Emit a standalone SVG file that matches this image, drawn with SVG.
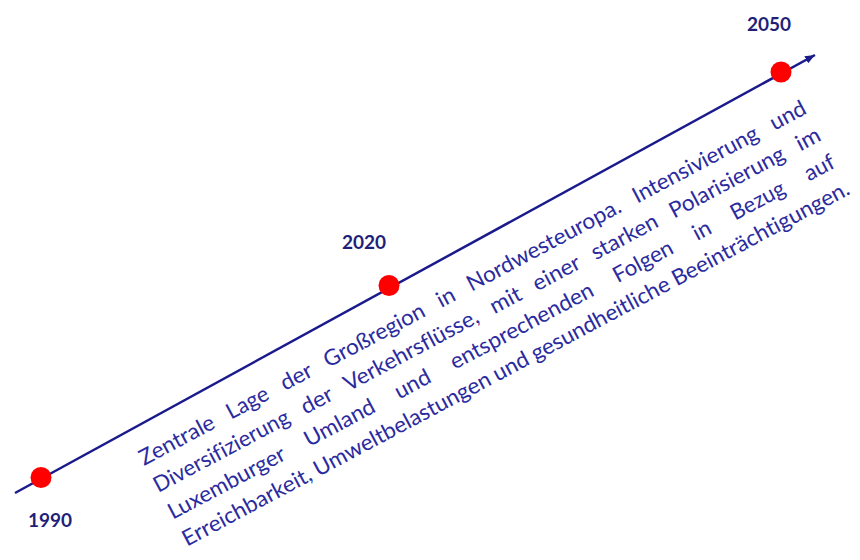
<svg xmlns="http://www.w3.org/2000/svg" width="860" height="560" viewBox="0 0 860 560">
<defs>
<style>
.yr{font-family:Lato,"Liberation Sans",sans-serif;font-weight:700;font-size:19px;fill:#1f1f7a}
.body{font-family:Lato,"Liberation Sans",sans-serif;font-size:22px;fill:#2b2ba0;font-variant-ligatures:none}
.dot{fill:#ff0000}
.axis{stroke:#1a1a8c;stroke-width:2.5;fill:none}
</style>
<marker id="arr" viewBox="0 0 10 8" refX="10" refY="4" markerWidth="10" markerHeight="8" markerUnits="userSpaceOnUse" orient="auto">
<path d="M0,0 L10,4 L0,8 z" fill="#1a1a8c"/>
</marker>
</defs>
<rect width="860" height="560" fill="#ffffff"/>
<g id="connectors">
<line class="axis" x1="15" y1="493" x2="815" y2="55" marker-end="url(#arr)"/>
</g>
<g id="node-1990">
<circle class="dot" cx="41" cy="477.5" r="10.5"/>
<text class="yr" x="28" y="527">1990</text>
</g>
<g id="node-2020">
<circle class="dot" cx="389" cy="285.5" r="10.5"/>
<text class="yr" x="342" y="249">2020</text>
</g>
<g id="node-2050">
<circle class="dot" cx="781" cy="72" r="10.5"/>
<text class="yr" x="747" y="30.5">2050</text>
</g>
<g id="description" transform="translate(144,466) rotate(-28)">
<text class="body" y="0"><tspan x="0" textLength="82.3" lengthAdjust="spacingAndGlyphs">Zentrale</tspan> <tspan x="98.6" textLength="44.8" lengthAdjust="spacingAndGlyphs">Lage</tspan> <tspan x="159.6" textLength="32.9" lengthAdjust="spacingAndGlyphs">der</tspan> <tspan x="208.8" textLength="111.6" lengthAdjust="spacingAndGlyphs">Großregion</tspan> <tspan x="336.7" textLength="18.1" lengthAdjust="spacingAndGlyphs">in</tspan> <tspan x="371" textLength="171.4" lengthAdjust="spacingAndGlyphs">Nordwesteuropa.</tspan> <tspan x="558.7" textLength="139.3" lengthAdjust="spacingAndGlyphs">Intensivierung</tspan> <tspan x="714.2" textLength="37.8" lengthAdjust="spacingAndGlyphs">und</tspan></text>
<text class="body" y="30.5"><tspan x="0" textLength="150.9" lengthAdjust="spacingAndGlyphs">Diversifizierung</tspan> <tspan x="166.7" textLength="32.9" lengthAdjust="spacingAndGlyphs">der</tspan> <tspan x="215.4" textLength="149.6" lengthAdjust="spacingAndGlyphs">Verkehrsflüsse,</tspan> <tspan x="380.8" textLength="32.7" lengthAdjust="spacingAndGlyphs">mit</tspan> <tspan x="429.3" textLength="50.4" lengthAdjust="spacingAndGlyphs">einer</tspan> <tspan x="495.4" textLength="72.8" lengthAdjust="spacingAndGlyphs">starken</tspan> <tspan x="584" textLength="127.6" lengthAdjust="spacingAndGlyphs">Polarisierung</tspan> <tspan x="727.4" textLength="24.7" lengthAdjust="spacingAndGlyphs">im</tspan></text>
<text class="body" y="61"><tspan x="0" textLength="129.4" lengthAdjust="spacingAndGlyphs">Luxemburger</tspan> <tspan x="154.5" textLength="77" lengthAdjust="spacingAndGlyphs">Umland</tspan> <tspan x="256.6" textLength="37.8" lengthAdjust="spacingAndGlyphs">und</tspan> <tspan x="319.5" textLength="159.4" lengthAdjust="spacingAndGlyphs">entsprechenden</tspan> <tspan x="504" textLength="65" lengthAdjust="spacingAndGlyphs">Folgen</tspan> <tspan x="594.1" textLength="18.1" lengthAdjust="spacingAndGlyphs">in</tspan> <tspan x="637.3" textLength="58.4" lengthAdjust="spacingAndGlyphs">Bezug</tspan> <tspan x="720.8" textLength="31.4" lengthAdjust="spacingAndGlyphs">auf</tspan></text>
<text class="body" y="91.5"><tspan x="0" textLength="143.5" lengthAdjust="spacingAndGlyphs">Erreichbarkeit,</tspan> <tspan x="148.9" textLength="197.5" lengthAdjust="spacingAndGlyphs">Umweltbelastungen</tspan> <tspan x="351.8" textLength="37.8" lengthAdjust="spacingAndGlyphs">und</tspan> <tspan x="395" textLength="154.2" lengthAdjust="spacingAndGlyphs">gesundheitliche</tspan> <tspan x="554.6" textLength="197.7" lengthAdjust="spacingAndGlyphs">Beeinträchtigungen.</tspan></text>
</g>
</svg>
